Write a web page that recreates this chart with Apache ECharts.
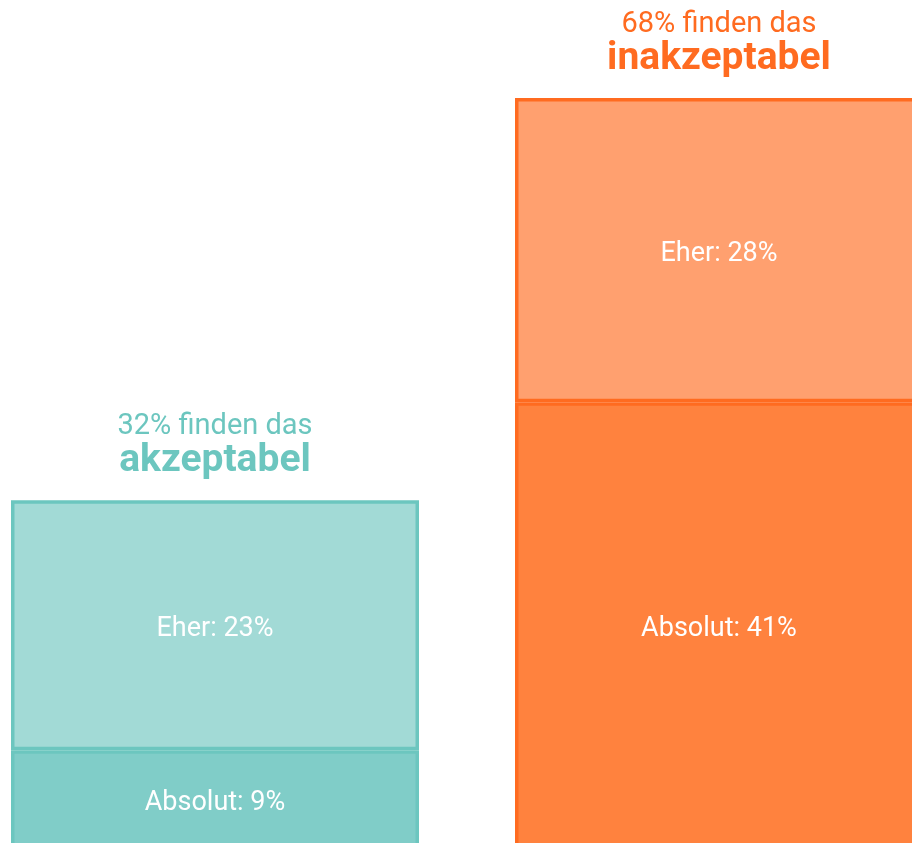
<!DOCTYPE html>
<html>
<head>
<meta charset="utf-8">
<script src="https://cdn.jsdelivr.net/npm/echarts@6/dist/echarts.min.js"></script>
<style>
  html, body { margin: 0; padding: 0; background: #fff; }
  #chart { width: 912px; height: 843px; }
</style>
</head>
<body>
<div id="chart"></div>
<script>
// Kategorien und Werte (in %)
const categories = ['akzeptabel', 'inakzeptabel'];
const absolutValues = [9, 41];
const eherValues = [23, 28];
// Summen wie in der Vorlage beschriftet (gerundet)
const totalLabels = [32, 68];

// Farben je Kategorie
const borderColors = ['#6cc6bf', '#ff6b20'];
const absolutColors = ['#80cdc8', '#ff823e'];
const eherColors = ['#a2dad6', '#ffa06f'];

let chart = echarts.init(document.getElementById('chart'));

function seg(values, fills) {
  return values.map((v, i) => ({
    value: v,
    itemStyle: { color: fills[i], borderColor: borderColors[i] }
  }));
}

let innerLabel = {
  show: true,
  position: 'inside',
  offset: [0, 4],
  color: '#fff',
  fontFamily: 'Roboto',
  fontSize: 27
};

let option = {
  animation: false,
  backgroundColor: '#fff',
  grid: { left: 215, width: 504, top: 98, height: 750, outerBoundsMode: 'none' },
  xAxis: {
    type: 'category',
    data: categories,
    boundaryGap: false,
    show: false
  },
  yAxis: {
    type: 'value',
    min: 0,
    max: 69,
    show: false
  },
  series: [
    {
      name: 'Absolut',
      type: 'bar',
      stack: 'gesamt',
      barWidth: 408,
      data: seg(absolutValues, absolutColors),
      itemStyle: { borderWidth: 3.5 },
      label: Object.assign({}, innerLabel, {
        formatter: p => 'Absolut: ' + p.value + '%'
      })
    },
    {
      name: 'Eher',
      type: 'bar',
      stack: 'gesamt',
      barWidth: 408,
      data: seg(eherValues, eherColors),
      itemStyle: { borderWidth: 3.5 },
      label: Object.assign({}, innerLabel, {
        formatter: p => 'Eher: ' + p.value + '%'
      })
    },
    {
      // nur für die Überschriften über den Balken
      name: 'Gesamt',
      type: 'bar',
      barGap: '-100%',
      barWidth: 408,
      silent: true,
      z: 0,
      data: absolutValues.map((v, i) => ({
        value: v + eherValues[i],
        label: {
          rich: {
            a: { fontFamily: 'Roboto', fontSize: 29, lineHeight: 30, color: borderColors[i] },
            b: { fontFamily: 'Roboto', fontSize: 39, fontWeight: 'bold', lineHeight: 39, color: borderColors[i] }
          }
        }
      })),
      itemStyle: { color: 'transparent' },
      label: {
        show: true,
        position: 'top',
        distance: 19,
        align: 'center',
        formatter: p => '{a|' + totalLabels[p.dataIndex] + '% finden das}\n{b|' + p.name + '}'
      }
    }
  ]
};

chart.setOption(option);
</script>
</body>
</html>
